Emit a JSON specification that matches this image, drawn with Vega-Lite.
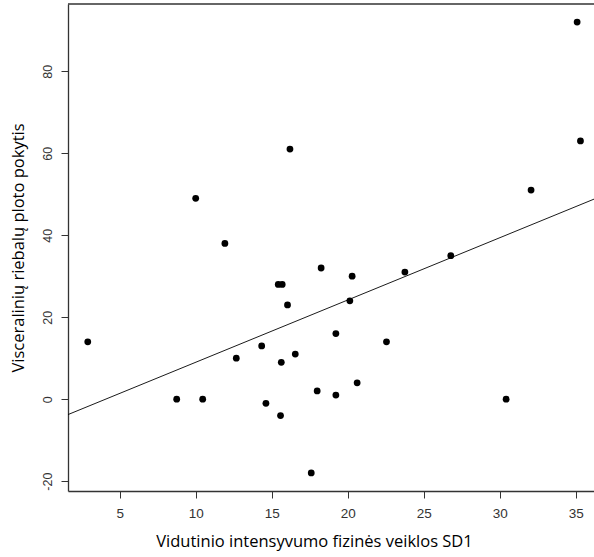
{
  "$schema": "https://vega.github.io/schema/vega-lite/v6.json",
  "autosize": "none",
  "width": 526,
  "height": 487,
  "padding": {"left": 68, "top": 4, "right": 0, "bottom": 66},
  "background": "white",
  "view": {"stroke": null},
  "config": {
    "axis": {"grid": false, "domainColor": "#333333", "tickColor": "#333333", "labelColor": "#333333", "labelFont": "Liberation Sans", "titleFont": "Open Sans", "titleFontWeight": "normal", "titleColor": "#000000", "tickSize": 7, "domainWidth": 1.3}
  },
  "datasets": {
    "points": [
      {"sd1": 2.9, "pokytis": 14},
      {"sd1": 8.75, "pokytis": 0},
      {"sd1": 10.0, "pokytis": 49},
      {"sd1": 10.46, "pokytis": 0},
      {"sd1": 11.92, "pokytis": 38},
      {"sd1": 12.67, "pokytis": 10},
      {"sd1": 14.34, "pokytis": 13},
      {"sd1": 14.62, "pokytis": -1},
      {"sd1": 15.43, "pokytis": 28},
      {"sd1": 15.69, "pokytis": 28},
      {"sd1": 15.63, "pokytis": 9},
      {"sd1": 15.58, "pokytis": -4},
      {"sd1": 16.04, "pokytis": 23},
      {"sd1": 16.2, "pokytis": 61},
      {"sd1": 16.55, "pokytis": 11},
      {"sd1": 17.6, "pokytis": -18},
      {"sd1": 17.99, "pokytis": 2},
      {"sd1": 18.25, "pokytis": 32},
      {"sd1": 19.22, "pokytis": 16},
      {"sd1": 19.22, "pokytis": 1},
      {"sd1": 20.14, "pokytis": 24},
      {"sd1": 20.29, "pokytis": 30},
      {"sd1": 20.62, "pokytis": 4},
      {"sd1": 22.55, "pokytis": 14},
      {"sd1": 23.76, "pokytis": 31},
      {"sd1": 26.78, "pokytis": 35},
      {"sd1": 30.42, "pokytis": 0},
      {"sd1": 32.06, "pokytis": 51},
      {"sd1": 35.09, "pokytis": 92},
      {"sd1": 35.31, "pokytis": 63}
    ],
    "fit": [
      {"sd1": 1.6, "pokytis": -3.76},
      {"sd1": 36.2, "pokytis": 48.8}
    ]
  },
  "layer": [
    {
      "data": {"name": "fit"},
      "mark": {"type": "line", "color": "#000000", "strokeWidth": 0.9, "clip": true},
      "encoding": {
        "x": {"field": "sd1", "type": "quantitative", "scale": {"domain": [1.6, 36.2], "nice": false, "zero": false},
          "axis": {"values": [5, 10, 15, 20, 25, 30, 35], "labelFontSize": 13.5, "labelPadding": 8, "title": "Vidutinio intensyvumo fizinės veiklos SD1", "titleFontSize": 16.5, "titlePadding": 14, "titleX": 246}},
        "y": {"field": "pokytis", "type": "quantitative", "scale": {"domain": [-22.4, 96.4], "nice": false, "zero": false},
          "axis": {"values": [-20, 0, 20, 40, 60, 80], "labelExpr": "datum.value < 0 ? '-' + abs(datum.value) : '' + datum.value", "labelAngle": -90, "labelAlign": "center", "labelBaseline": "bottom", "labelFontSize": 12.5, "labelPadding": 7, "title": "Visceralinių riebalų ploto pokytis", "titleFontSize": 16.5, "titlePadding": 15}}
      }
    },
    {
      "data": {"name": "points"},
      "mark": {"type": "point", "filled": true, "color": "#000000", "opacity": 1, "size": 46},
      "encoding": {
        "x": {"field": "sd1", "type": "quantitative"},
        "y": {"field": "pokytis", "type": "quantitative"}
      }
    },
    {
      "data": {"values": [{}]},
      "mark": {"type": "rule", "color": "#333333", "strokeWidth": 1.3},
      "encoding": {
        "x": {"datum": 1.6},
        "x2": {"datum": 36.2},
        "y": {"datum": 96.4}
      }
    }
  ]
}
